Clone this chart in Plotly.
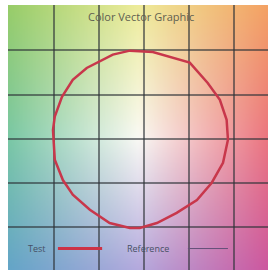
import base64
import struct
import zlib

import numpy as np
import plotly.graph_objects as go

# Test polygon (a*/b*-like units, grid step = 1)
test_x = [-0.31, 0.20, 1.02, 1.42, 1.69, 1.84, 1.87, 1.76, 1.51, 1.18, 0.73, 0.29,
          -0.09, -0.31, -0.76, -1.20, -1.58, -1.80, -1.98, -2.02, -1.98, -1.82, -1.58,
          -1.27, -0.69, -0.31]
test_y = [1.99, 1.96, 1.72, 1.26, 0.88, 0.43, -0.02, -0.54, -0.99, -1.38, -1.67, -1.90,
          -2.01, -2.01, -1.90, -1.60, -1.26, -0.93, -0.47, 0.20, 0.50, 0.95, 1.33,
          1.60, 1.90, 1.99]

title_text = "Color Vector Graphic"
legend_labels = ["Test", "Reference"]

x_range = [-3.02, 2.76]
y_range = [-2.96, 3.02]

# background colour control points (rows: bottom, middle, top; cols: left, mid, right)
bg_bottom = [(100, 165, 200), (180, 170, 222), (205, 88, 160)]
bg_middle = [(122, 200, 165), (250, 250, 245), (236, 118, 128)]
bg_top = [(152, 205, 105), (238, 236, 155), (244, 162, 100)]

ctrl = np.array([bg_bottom, bg_middle, bg_top], dtype=float)
n = 160
u = np.linspace(0, 2, n)
v = np.linspace(0, 2, n)
U, V = np.meshgrid(u, v)
i0 = np.clip(np.floor(U).astype(int), 0, 1)
j0 = np.clip(np.floor(V).astype(int), 0, 1)
fu = (U - i0)[..., None]
fv = (V - j0)[..., None]
img = (ctrl[j0, i0] * (1 - fu) * (1 - fv) + ctrl[j0, i0 + 1] * fu * (1 - fv)
       + ctrl[j0 + 1, i0] * (1 - fu) * fv + ctrl[j0 + 1, i0 + 1] * fu * fv)
img = np.clip(img, 0, 255).astype(np.uint8)[::-1]  # top row first


def to_png(arr):
    h, w, _ = arr.shape
    raw = b"".join(b"\x00" + arr[r].tobytes() for r in range(h))

    def chunk(tag, data):
        c = tag + data
        return struct.pack(">I", len(data)) + c + struct.pack(">I", zlib.crc32(c) & 0xFFFFFFFF)

    return (b"\x89PNG\r\n\x1a\n" + chunk(b"IHDR", struct.pack(">IIBBBBB", w, h, 8, 2, 0, 0, 0))
            + chunk(b"IDAT", zlib.compress(raw, 9)) + chunk(b"IEND", b""))


src = "data:image/png;base64," + base64.b64encode(to_png(img)).decode()

fig = go.Figure()
fig.add_trace(go.Scatter(x=test_x, y=test_y, mode="lines", name=legend_labels[0],
                         line=dict(color="rgb(200,55,75)", width=2.5), showlegend=False))
fig.add_layout_image(source=src, xref="x", yref="y", x=x_range[0], y=y_range[1],
                     sizex=x_range[1] - x_range[0], sizey=y_range[1] - y_range[0],
                     sizing="stretch", layer="below", xanchor="left", yanchor="top")

red = "rgb(205,50,70)"
txt = "rgb(70,80,100)"
fig.add_annotation(x=0.512, y=0.958, xref="paper", yref="paper", text=title_text,
                   showarrow=False, yanchor="middle", font=dict(size=11, color="rgb(95,95,80)"))
fig.add_annotation(x=0.152, y=0.081, xref="paper", yref="paper", text=legend_labels[0],
                   showarrow=False, xanchor="right", yanchor="middle",
                   font=dict(size=9, color=txt))
fig.add_shape(type="line", xref="paper", yref="paper", x0=0.192, x1=0.362, y0=0.081, y1=0.081,
              line=dict(color=red, width=3))
fig.add_annotation(x=0.54, y=0.081, xref="paper", yref="paper", text=legend_labels[1],
                   showarrow=False, yanchor="middle", font=dict(size=9, color=txt))
fig.add_shape(type="line", xref="paper", yref="paper", x0=0.692, x1=0.846, y0=0.081, y1=0.081,
              line=dict(color="rgb(100,80,120)", width=1))

grid = dict(showgrid=True, gridcolor="rgba(45,50,55,0.6)", gridwidth=2, dtick=1, tick0=0,
            showticklabels=False, zeroline=False, ticks="", showline=False)
fig.update_xaxes(range=x_range, **grid)
fig.update_yaxes(range=y_range, autorange=False, **grid)
fig.update_layout(width=270, height=272, margin=dict(l=8, r=2, t=5, b=2),
                  paper_bgcolor="white", plot_bgcolor="rgba(0,0,0,0)", showlegend=False)
fig.write_html("out.html", config={"displayModeBar": False},
               post_script="document.body.style.margin='0';document.body.style.overflow='hidden';")
